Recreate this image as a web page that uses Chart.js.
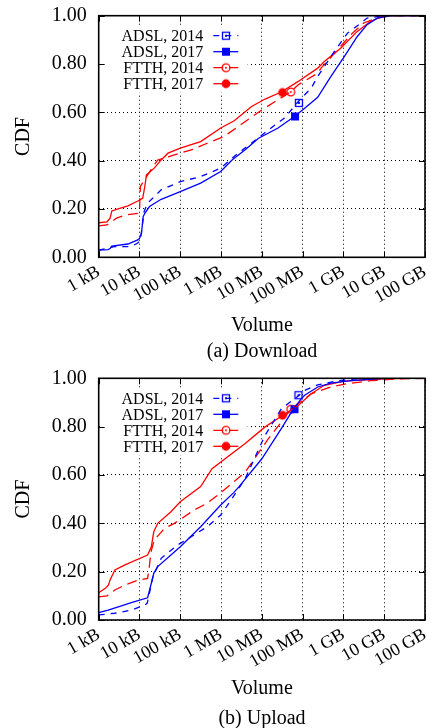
<!DOCTYPE html>
<html><head><meta charset="utf-8">
<script src="https://cdn.jsdelivr.net/npm/chart.js@4"></script>
<style>
html,body{margin:0;padding:0;background:#fff;}
canvas{display:block;}
</style></head><body>
<canvas id="c1" width="431" height="364"></canvas>
<canvas id="c2" width="431" height="364"></canvas>
<script>
// ---- data (volume in kB, CDF value) ----
const xTickValues = [1, 10, 100, 1e3, 1e4, 1e5, 1e6, 1e7, 1e8];
const xTickLabels = ['1 kB', '10 kB', '100 kB', '1 MB', '10 MB', '100 MB', '1 GB', '10 GB', '100 GB'];
const seriesNames = ['ADSL, 2014', 'ADSL, 2017', 'FTTH, 2014', 'FTTH, 2017'];

// Download
const dlAdsl14X = [1, 2.4, 6, 8.9, 10.5, 11.5, 13, 15.8, 34, 100, 316, 980, 1860, 2700, 8300, 21000, 36000, 78000, 162000, 234000, 600000, 1260000, 2500000, 3800000, 1e7, 1e8];
const dlAdsl14Y = [0.030, 0.044, 0.044, 0.058, 0.07, 0.12, 0.19, 0.224, 0.279, 0.313, 0.334, 0.369, 0.41, 0.432, 0.495, 0.548, 0.576, 0.645, 0.70, 0.748, 0.852, 0.928, 0.965, 0.99, 1.0, 1.0];
const dlAdsl17X = [1, 1.7, 1.9, 2.1, 5.2, 9.1, 10, 11.2, 12.3, 13.5, 17.6, 34, 100, 316, 980, 1860, 3900, 8300, 25000, 63000, 112000, 234000, 490000, 1050000, 2190000, 3800000, 6760000, 14000000, 1e8];
const dlAdsl17Y = [0.030, 0.032, 0.036, 0.046, 0.055, 0.072, 0.078, 0.10, 0.168, 0.182, 0.21, 0.24, 0.272, 0.307, 0.355, 0.403, 0.445, 0.493, 0.535, 0.583, 0.617, 0.662, 0.748, 0.831, 0.914, 0.963, 0.99, 1.0, 1.0];
const dlFtth14X = [1, 1.6, 2.75, 4.5, 9.1, 10, 10.5, 19, 28, 72, 219, 290, 457, 1170, 1550, 10000, 52000, 78000, 234000, 282000, 724000, 1510000, 3160000, 6760000, 15000000, 1e8];
const dlFtth14Y = [0.13, 0.134, 0.162, 0.175, 0.182, 0.19, 0.293, 0.362, 0.403, 0.424, 0.448, 0.458, 0.472, 0.50, 0.514, 0.61, 0.686, 0.714, 0.762, 0.783, 0.859, 0.921, 0.97, 0.99, 1.0, 1.0];
const dlFtth17X = [1, 1.6, 1.9, 2.1, 3.0, 5.2, 9.1, 12, 13.5, 14.8, 23, 34, 50, 100, 316, 980, 2100, 5600, 12000, 30000, 78000, 234000, 340000, 870000, 2190000, 4570000, 9800000, 1e8];
const dlFtth17Y = [0.143, 0.147, 0.162, 0.192, 0.20, 0.213, 0.233, 0.244, 0.293, 0.341, 0.369, 0.403, 0.431, 0.452, 0.479, 0.535, 0.565, 0.624, 0.655, 0.684, 0.728, 0.783, 0.81, 0.866, 0.935, 0.976, 1.0, 1.0];
const dlMarkX = [81000, 65000, 51000, 32000];
const dlMarkY = [0.639, 0.583, 0.684, 0.682];

// Upload
const ulAdsl14X = [1, 2.5, 6.3, 13.5, 15.5, 21.4, 34, 85, 219, 457, 980, 1860, 3900, 12000, 30000, 78000, 112000, 234000, 724000, 3000000, 1e8];
const ulAdsl14Y = [0.021, 0.028, 0.041, 0.062, 0.07, 0.179, 0.255, 0.31, 0.352, 0.386, 0.434, 0.503, 0.585, 0.764, 0.874, 0.927, 0.95, 0.973, 0.99, 1.0, 1.0];
const ulAdsl17X = [1, 1.7, 3.6, 6.3, 15.8, 19.5, 22.4, 28, 100, 316, 980, 2040, 2700, 10000, 30000, 57000, 93000, 112000, 234000, 490000, 1510000, 1e7, 1e8];
const ulAdsl17Y = [0.030, 0.041, 0.058, 0.072, 0.092, 0.152, 0.193, 0.221, 0.303, 0.386, 0.476, 0.527, 0.55, 0.667, 0.792, 0.868, 0.916, 0.93, 0.964, 0.98, 0.99, 1.0, 1.0];
const ulFtth14X = [1, 1.6, 2.5, 4.4, 9.1, 15.8, 17.4, 19, 23, 41, 72, 219, 457, 1050, 3900, 14500, 30000, 51000, 162000, 490000, 1260000, 4570000, 20000000, 1e8];
const ulFtth14Y = [0.096, 0.10, 0.124, 0.145, 0.165, 0.172, 0.22, 0.28, 0.331, 0.379, 0.40, 0.455, 0.483, 0.53, 0.612, 0.75, 0.819, 0.872, 0.936, 0.964, 0.978, 0.99, 0.997, 1.0];
const ulFtth17X = [1, 1.45, 1.74, 1.9, 2.5, 4.4, 15.8, 19.5, 22.4, 28, 59, 100, 316, 600, 3900, 12000, 33000, 78000, 162000, 340000, 1050000, 8100000, 30000000, 1e8];
const ulFtth17Y = [0.113, 0.131, 0.145, 0.166, 0.207, 0.228, 0.269, 0.303, 0.365, 0.40, 0.448, 0.489, 0.552, 0.626, 0.73, 0.799, 0.847, 0.888, 0.936, 0.971, 0.988, 0.997, 1.0, 1.0];
const ulMarkX = [79000, 63000, 51000, 32000];
const ulMarkY = [0.93, 0.872, 0.872, 0.847];

// ---- styles ----
const BLUE = '#0000ff', RED = '#ff0000';
const FONT = "'Liberation Serif', 'Times New Roman', serif";
const styles = [
  {color: BLUE, dash: [6, 6], shape: 'square', filled: false},
  {color: BLUE, dash: [], shape: 'square', filled: true},
  {color: RED, dash: [10, 6], shape: 'circle', filled: false},
  {color: RED, dash: [], shape: 'circle', filled: true}
];

function makeMarker(shape, filled, color) {
  const c = document.createElement('canvas');
  c.width = 12; c.height = 12;
  const g = c.getContext('2d');
  g.fillStyle = color; g.strokeStyle = color; g.lineWidth = 1.3;
  if (shape === 'square') {
    if (filled) g.fillRect(2, 2, 8, 8);
    else { g.strokeRect(2.5, 2.5, 7, 7); g.fillRect(5, 5, 2, 2); }
  } else {
    g.beginPath();
    g.arc(6, 6, filled ? 4.4 : 3.9, 0, 2 * Math.PI);
    if (filled) g.fill();
    else { g.stroke(); g.beginPath(); g.arc(6, 6, 1, 0, 2 * Math.PI); g.fill(); }
  }
  return c;
}
const markers = styles.map(s => makeMarker(s.shape, s.filled, s.color));

const zip = (xs, ys) => xs.map((x, i) => ({x: x, y: ys[i]}));

const framePlugin = {
  id: 'frameLegend',
  beforeDatasetsDraw(chart) {
    const a = chart.chartArea, ctx = chart.ctx;
    ctx.save();
    ctx.fillStyle = '#fff';
    ctx.fillRect(a.left + 1, a.top + 11, 148, 66);
    ctx.restore();
  },
  afterDatasetsDraw(chart) {
    const a = chart.chartArea, ctx = chart.ctx;
    const xs = chart.scales.x, ys = chart.scales.y;
    ctx.save();
    ctx.strokeStyle = '#000';
    ctx.lineWidth = 1;
    ctx.setLineDash([]);
    ctx.beginPath();
    xTickValues.forEach(v => {
      const p = Math.round(xs.getPixelForValue(v)) + 0.5;
      ctx.moveTo(p, a.bottom); ctx.lineTo(p, a.bottom - 6);
      ctx.moveTo(p, a.top); ctx.lineTo(p, a.top + 6);
    });
    ys.ticks.forEach(t => {
      const p = Math.round(ys.getPixelForValue(t.value)) + 0.5;
      ctx.moveTo(a.left, p); ctx.lineTo(a.left + 6, p);
      ctx.moveTo(a.right, p); ctx.lineTo(a.right - 6, p);
    });
    ctx.stroke();
    ctx.lineWidth = 1.6;
    ctx.strokeRect(a.left, a.top, a.right - a.left, a.bottom - a.top);
    // legend
    ctx.font = '16px ' + FONT;
    ctx.textAlign = 'right';
    ctx.textBaseline = 'middle';
    const rows = [20, 36, 52, 68];
    seriesNames.forEach((name, i) => {
      const y = a.top + rows[i];
      ctx.fillStyle = '#000';
      ctx.fillText(name, a.left + 104.6, y + 1);
      const s = styles[i];
      ctx.strokeStyle = s.color;
      ctx.lineWidth = 1.3;
      ctx.setLineDash(s.dash);
      ctx.beginPath();
      ctx.moveTo(a.left + 114.6, y); ctx.lineTo(a.left + 139.6, y);
      ctx.stroke();
      ctx.setLineDash([]);
      ctx.drawImage(markers[i], a.left + 127.3 - 6, y - 6);
    });
    // caption
    const cap = chart.options.plugins.frameLegend;
    ctx.fillStyle = '#000';
    ctx.font = '20px ' + FONT;
    ctx.textAlign = 'center';
    ctx.fillText(cap.caption, cap.capX, cap.capY);
    ctx.restore();
  }
};

function buildChart(id, series, markX, markY, cfg) {
  const datasets = [];
  series.forEach((s, i) => {
    datasets.push({
      type: 'line', label: seriesNames[i], data: zip(s[0], s[1]),
      borderColor: styles[i].color, borderDash: styles[i].dash, borderWidth: 1.3,
      pointRadius: 0, tension: 0, fill: false
    });
  });
  markX.forEach((x, i) => {
    datasets.push({
      type: 'line', label: seriesNames[i] + ' marker', data: [{x: x, y: markY[i]}],
      showLine: false, pointStyle: markers[i], pointRadius: 5,
      borderColor: styles[i].color, backgroundColor: styles[i].color
    });
  });
  return new Chart(document.getElementById(id), {
    data: {datasets: datasets},
    options: {
      responsive: false, animation: false,
      layout: {padding: {top: cfg.padTop, right: 2.7, left: 0, bottom: 0}},
      plugins: {
        legend: {display: false}, tooltip: {enabled: false},
        frameLegend: {caption: cfg.caption, capX: 262, capY: cfg.capY}
      },
      scales: {
        x: {
          type: 'logarithmic', min: 1, max: 1e8,
          afterBuildTicks: sc => { sc.ticks = xTickValues.map(v => ({value: v})); },
          afterFit: sc => { sc.height = cfg.xHeight; sc.paddingLeft = 0; sc.paddingRight = 0; },
          ticks: {
            autoSkip: false, maxRotation: 30, minRotation: 30, padding: 4,
            color: '#000', font: {family: FONT, size: 18},
            callback: (v, i) => xTickLabels[i]
          },
          grid: {color: '#000', lineWidth: 1, drawTicks: false},
          border: {display: false, dash: [1, 3]},
          title: {display: true, text: 'Volume', color: '#000', font: {family: FONT, size: 20}, padding: {top: 0, bottom: cfg.titlePad}}
        },
        y: {
          min: 0, max: 1,
          afterFit: sc => { sc.width = 98.7; sc.paddingTop = 0; sc.paddingBottom = 0; },
          ticks: {stepSize: 0.2, padding: 12, color: '#000', font: {family: FONT, size: 20},
            callback: v => v.toFixed(2)},
          grid: {color: '#000', lineWidth: 1, drawTicks: false},
          border: {display: false, dash: [1, 3]},
          title: {display: true, text: 'CDF', color: '#000', font: {family: FONT, size: 20}, padding: {top: 11.5, bottom: 0}}
        }
      }
    },
    plugins: [framePlugin]
  });
}

buildChart('c1',
  [[dlAdsl14X, dlAdsl14Y], [dlAdsl17X, dlAdsl17Y], [dlFtth14X, dlFtth14Y], [dlFtth17X, dlFtth17Y]],
  dlMarkX, dlMarkY,
  {padTop: 15.7, xHeight: 106.7, titlePad: 26.3, caption: '(a) Download', capY: 351.7});
buildChart('c2',
  [[ulAdsl14X, ulAdsl14Y], [ulAdsl17X, ulAdsl17Y], [ulFtth14X, ulFtth14Y], [ulFtth17X, ulFtth17Y]],
  ulMarkX, ulMarkY,
  {padTop: 14.3, xHeight: 108, titlePad: 27, caption: '(b) Upload', capY: 354.3});
</script>
</body></html>
